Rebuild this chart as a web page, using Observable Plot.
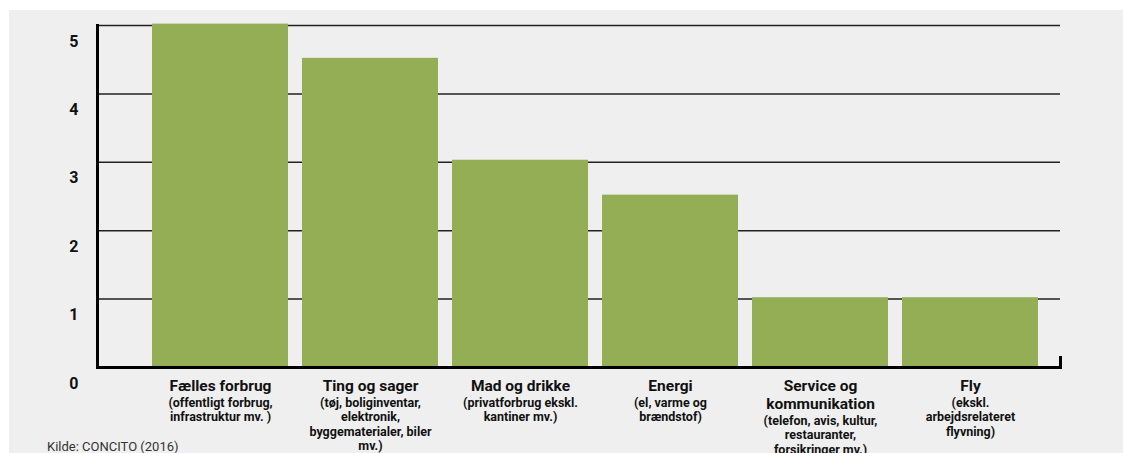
<!DOCTYPE html>
<html><head><meta charset="utf-8">
<script src="https://cdn.jsdelivr.net/npm/d3@7"></script>
<script src="https://cdn.jsdelivr.net/npm/@observablehq/plot@0.6"></script>
<style>
html,body{margin:0;padding:0;background:#fff;width:1125px;height:453px;overflow:hidden;font-family:Roboto,sans-serif}
#panel{position:absolute;left:9px;top:10px;width:1114px;height:443px;background:#efefef}
#chart{position:absolute;left:0;top:0}
#caption{position:absolute;left:47px;top:439px;font-size:13px;line-height:15px;color:#333;white-space:nowrap}
</style></head><body>
<div id="panel"></div>
<div id="chart"></div>
<div id="caption">Kilde: CONCITO (2016)</div>
<script>
const categories = ["Fælles forbrug", "Ting og sager", "Mad og drikke", "Energi", "Service og kommunikation", "Fly"];
const nameLines = ["Fælles forbrug", "Ting og sager", "Mad og drikke", "Energi", "Service og\nkommunikation", "Fly"];
const descriptions = [
  "(offentligt forbrug,\ninfrastruktur mv. )",
  "(tøj, boliginventar,\nelektronik,\nbyggematerialer, biler\nmv.)",
  "(privatforbrug ekskl.\nkantiner mv.)",
  "(el, varme og\nbrændstof)",
  "(telefon, avis, kultur,\nrestauranter,\nforsikringer mv.)",
  "(ekskl.\narbejdsrelateret\nflyvning)"
];
const values = [5.02, 4.52, 3.03, 2.52, 1.02, 1.02];
const yTicks = [0, 1, 2, 3, 4, 5];
const gridTicks = [1, 2, 3, 4, 5];

const data = categories.map((c, i) => ({
  category: c, name: nameLines[i], desc: descriptions[i], value: values[i],
  twoLine: nameLines[i].includes("\n")
}));

const chart = Plot.plot({
  width: 1125, height: 453,
  marginLeft: 97, marginRight: 65, marginTop: 25, marginBottom: 86,
  style: {background: "transparent", fontFamily: "Roboto, sans-serif", color: "#111", overflow: "visible"},
  x: {domain: categories, range: [143.8, 1046.2], paddingInner: 0.096, paddingOuter: 0.048, axis: null},
  y: {domain: [0, 5], axis: null},
  marks: [
    Plot.ruleY(gridTicks, {stroke: "#222", strokeWidth: 1.5}),
    Plot.barY(data, {x: "category", y: "value", fill: "#93ae55"}),
    Plot.frame({anchor: "left", stroke: "#000", strokeWidth: 3}),
    Plot.frame({anchor: "bottom", stroke: "#000", strokeWidth: 3, strokeLinecap: "square"}),
    Plot.frame({anchor: "right", stroke: "#000", strokeWidth: 3, insetTop: 332}),
    Plot.axisY(yTicks, {tickSize: 0, tickPadding: 19, dy: 16, fontSize: 16, fontWeight: "bold", fill: "#111",
      label: null, tickFormat: d3.format("d")}),
    Plot.text(data, {x: "category", text: "name", frameAnchor: "bottom", lineAnchor: "top", dy: 11.3,
      fontSize: 15.5, fontWeight: "bold", fill: "#111", lineHeight: 1.14}),
    Plot.text(data.filter(d => !d.twoLine), {x: "category", text: "desc", frameAnchor: "bottom", lineAnchor: "top", dy: 29,
      fontSize: 12.5, fontWeight: "bold", fill: "#111", lineHeight: 1.16}),
    Plot.text(data.filter(d => d.twoLine), {x: "category", text: "desc", frameAnchor: "bottom", lineAnchor: "top", dy: 47,
      fontSize: 12.5, fontWeight: "bold", fill: "#111", lineHeight: 1.16})
  ]
});
document.getElementById("chart").append(chart);
</script>
</body></html>
